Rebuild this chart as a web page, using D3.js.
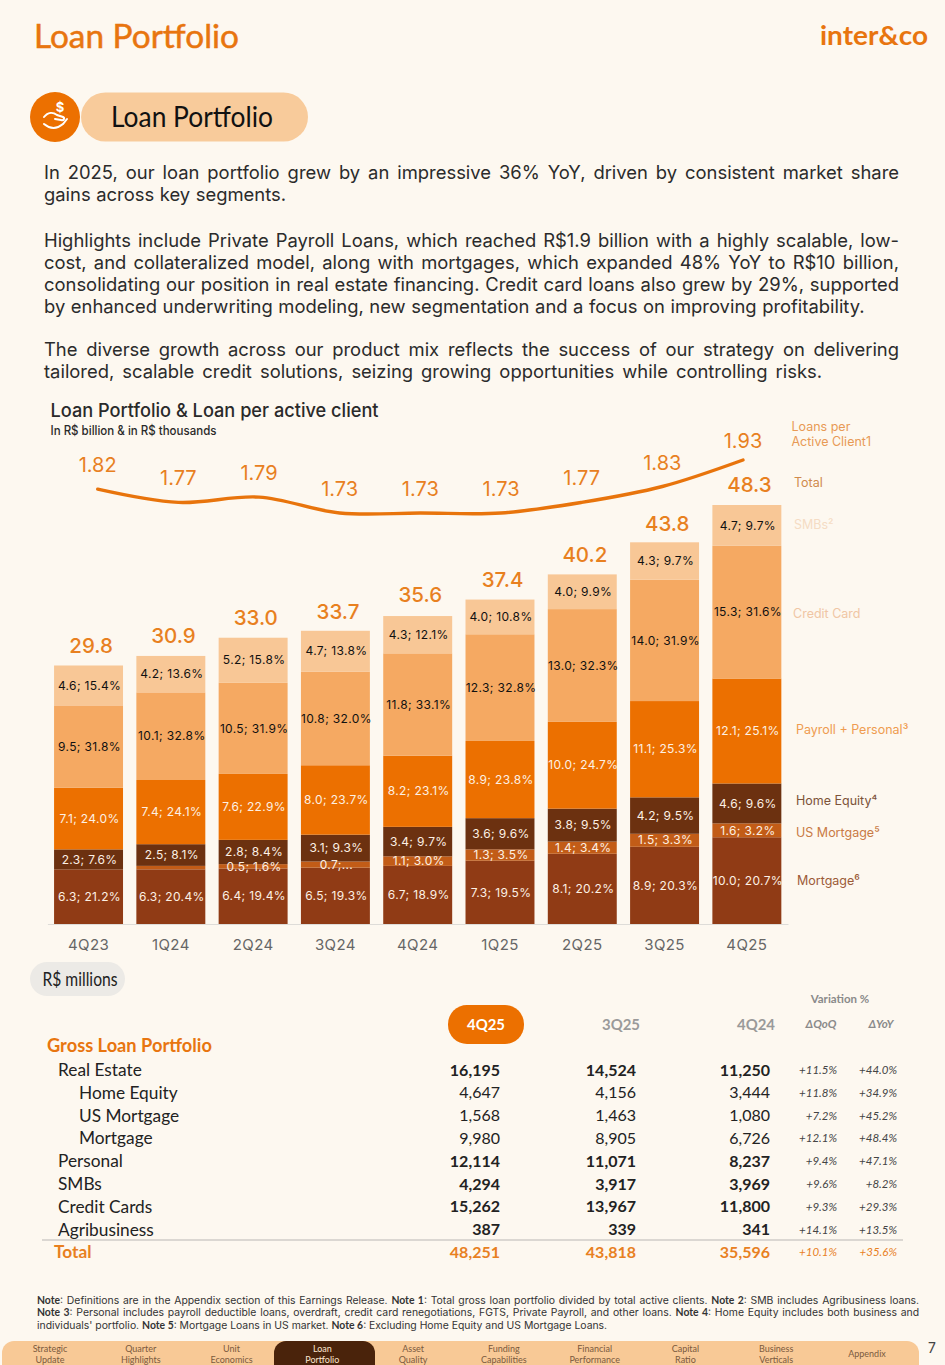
<!DOCTYPE html>
<html>
<head>
<meta charset="utf-8">
<script src="https://cdn.jsdelivr.net/npm/d3@7"></script>
<style>
  html, body { margin: 0; padding: 0; background: #fdf8f0; }
  svg { display: block; }
</style>
</head>
<body>
<div id="page"></div>
<script>
// chart data
const quarters = ["4Q23", "1Q24", "2Q24", "3Q24", "4Q24", "1Q25", "2Q25", "3Q25", "4Q25"];
const totals = [29.8, 30.9, 33.0, 33.7, 35.6, 37.4, 40.2, 43.8, 48.3];
const loansPerClient = [1.82, 1.77, 1.79, 1.73, 1.73, 1.73, 1.77, 1.83, 1.93];

const mortgage = [6.3, 6.3, 6.4, 6.5, 6.7, 7.3, 8.1, 8.9, 10.0];
const mortgagePct = [21.2, 20.4, 19.4, 19.3, 18.9, 19.5, 20.2, 20.3, 20.7];
const usMortgage = [0, 0.4, 0.5, 0.7, 1.1, 1.3, 1.4, 1.5, 1.6];
const usMortgageLabels = ["", "", "0.5; 1.6%", "0.7;...", "1.1; 3.0%", "1.3; 3.5%", "1.4; 3.4%", "1.5; 3.3%", "1.6; 3.2%"];
const homeEquity = [2.3, 2.5, 2.8, 3.1, 3.4, 3.6, 3.8, 4.2, 4.6];
const homeEquityPct = [7.6, 8.1, 8.4, 9.3, 9.7, 9.6, 9.5, 9.5, 9.6];
const personal = [7.1, 7.4, 7.6, 8.0, 8.2, 8.9, 10.0, 11.1, 12.1];
const personalPct = [24.0, 24.1, 22.9, 23.7, 23.1, 23.8, 24.7, 25.3, 25.1];
const creditCard = [9.5, 10.1, 10.5, 10.8, 11.8, 12.3, 13.0, 14.0, 15.3];
const creditCardPct = [31.8, 32.8, 31.9, 32.0, 33.1, 32.8, 32.3, 31.9, 31.6];
const smbs = [4.6, 4.2, 5.2, 4.7, 4.3, 4.0, 4.0, 4.3, 4.7];
const smbsPct = [15.4, 13.6, 15.8, 13.8, 12.1, 10.8, 9.9, 9.7, 9.7];

// table data
const rowNames = ["Real Estate", "Home Equity", "US Mortgage", "Mortgage", "Personal", "SMBs", "Credit Cards", "Agribusiness", "Total"];
const col4Q25 = ["16,195", "4,647", "1,568", "9,980", "12,114", "4,294", "15,262", "387", "48,251"];
const col3Q25 = ["14,524", "4,156", "1,463", "8,905", "11,071", "3,917", "13,967", "339", "43,818"];
const col4Q24 = ["11,250", "3,444", "1,080", "6,726", "8,237", "3,969", "11,800", "341", "35,596"];
const colQoQ = ["+11.5%", "+11.8%", "+7.2%", "+12.1%", "+9.4%", "+9.6%", "+9.3%", "+14.1%", "+10.1%"];
const colYoY = ["+44.0%", "+34.9%", "+45.2%", "+48.4%", "+47.1%", "+8.2%", "+29.3%", "+13.5%", "+35.6%"];
const subRows = ["Home Equity", "US Mortgage", "Mortgage"];
const navTabs = [["Strategic", "Update"], ["Quarter", "Highlights"], ["Unit", "Economics"], ["Loan", "Portfolio"], ["Asset", "Quality"],
  ["Funding", "Capabilities"], ["Financial", "Performance"], ["Capital", "Ratio"], ["Business", "Verticals"], ["Appendix"]];

const paragraphs = [
  ["In 2025, our loan portfolio grew by an impressive 36% YoY, driven by consistent market share", "gains across key segments."],
  ["Highlights include Private Payroll Loans, which reached R$1.9 billion with a highly scalable, low-",
   "cost, and collateralized model, along with mortgages, which expanded 48% YoY to R$10 billion,",
   "consolidating our position in real estate financing. Credit card loans also grew by 29%, supported",
   "by enhanced underwriting modeling,  new segmentation and a focus on improving profitability."],
  ["The diverse growth across our product mix reflects the success of our strategy on delivering",
   "tailored, scalable credit solutions, seizing growing opportunities while controlling risks."]
];

const orange = "#ec7000", sans = "Inter, sans-serif", brand = "Lato, sans-serif";

const svg = d3.select("#page").append("svg").attr("width", 945).attr("height", 1365);
svg.append("rect").attr("width", 945).attr("height", 1365).attr("fill", "#fdf8f0");

// small helper, everything on this page is a lot of text
function txt(x, y, s, o = {}) {
  const t = svg.append("text")
    .attr("x", x).attr("y", y).attr("dy", "0.35em")
    .attr("text-anchor", o.anchor || "start")
    .attr("font-family", o.font || sans)
    .attr("font-size", o.size || 12)
    .attr("font-weight", o.weight || 400)
    .attr("font-style", o.italic ? "italic" : "normal")
    .attr("fill", o.fill || "#222")
    .text(s);
  if (o.fit) t.attr("textLength", o.fit).attr("lengthAdjust", "spacingAndGlyphs");
  if (o.thick) t.attr("stroke", o.fill).attr("stroke-width", o.thick);
  return t;
}

// stretch a line to the given width through the word gaps
function justify(t, width) {
  const n = t.node();
  const gaps = n.textContent.split(" ").length - 1;
  t.style("word-spacing", (width - n.getComputedTextLength()) / gaps + "px");
}

// header
txt(34, 36, "Loan Portfolio", { font: brand, size: 33, fill: "#e8750f", fit: 205, thick: 0.5 });
txt(820, 36, "inter&co", { font: brand, size: 27, weight: 700, fill: "#e8750f", fit: 108 });

svg.append("circle").attr("cx", 55).attr("cy", 117).attr("r", 25).attr("fill", orange);
svg.append("rect").attr("x", 81).attr("y", 92.5).attr("width", 227).attr("height", 49).attr("rx", 24.5).attr("fill", "#f8cb9b");
txt(192, 117, "Loan Portfolio", { font: brand, size: 29, anchor: "middle", fill: "#111", fit: 162 });
txt(60, 107, "$", { size: 13, weight: 700, anchor: "middle", fill: "#fff" });
svg.append("path")
  .attr("d", "M44 117c4-5 9-5 13-2l6 2c2 1 1 4-2 3l-6-1M44 124c6 5 13 5 19 0l4-5")
  .attr("fill", "none").attr("stroke", "#fff").attr("stroke-width", 2).attr("stroke-linecap", "round");

// text block, the short lines end where they end in the original
const paraTops = [173, 241, 350];
const shortLines = { "gains": 242, "by": 821, "tailored,": 778 };
paragraphs.forEach((lines, p) => {
  lines.forEach((line, i) => {
    const t = txt(44, paraTops[p] + i * 21.9, line, { size: 18.4, fill: "#2b2b2b" });
    justify(t, shortLines[line.split(" ")[0]] || 855);
  });
});

// chart heading
txt(50.5, 411, "Loan Portfolio & Loan per active client", { font: sans, size: 18.5, weight: 500, fill: "#2a2a2a", fit: 328 });
txt(50.5, 431, "In R$ billion & in R$ thousands", { font: sans, size: 12.5, weight: 500, fill: "#2a2a2a", fit: 166 });

// scales
const x = d3.scaleBand().domain(quarters).range([47.4, 788]).paddingInner(0.162).paddingOuter(0.081);
const y = d3.scaleLinear().domain([0, 48.3]).range([924, 505]);
const xLine = d3.scalePoint().domain(quarters).range([97.7, 743]);
const yLine = d3.scaleLinear().domain([1.73, 1.93]).range([513, 460]);

const series = [
  { key: "mortgage", values: mortgage, pct: mortgagePct, fill: "#903b15", text: "#fdf0e4" },
  { key: "usMortgage", values: usMortgage, labels: usMortgageLabels, fill: "#c25c17", text: "#fdf0e4" },
  { key: "homeEquity", values: homeEquity, pct: homeEquityPct, fill: "#6c3110", text: "#fdf0e4" },
  { key: "personal", values: personal, pct: personalPct, fill: orange, text: "#fdf0e4" },
  { key: "creditCard", values: creditCard, pct: creditCardPct, fill: "#f5a962", text: "#111" },
  { key: "smbs", values: smbs, pct: smbsPct, fill: "#f8c796", text: "#111" }
];

const table = quarters.map((q, i) => {
  const row = { quarter: q };
  series.forEach(s => { row[s.key] = s.values[i]; });
  return row;
});
const stacked = d3.stack().keys(series.map(s => s.key))(table);

// bars
stacked.forEach((layer, k) => {
  const s = series[k];
  svg.append("g").selectAll("rect").data(layer).join("rect")
    .attr("x", d => x(d.data.quarter))
    .attr("y", d => y(d[1]))
    .attr("width", x.bandwidth())
    .attr("height", d => y(d[0]) - y(d[1]))
    .attr("fill", s.fill);
});

// segment labels
stacked.forEach((layer, k) => {
  const s = series[k];
  const label = (d, i) => s.labels ? s.labels[i] : `${s.values[i].toFixed(1)}; ${s.pct[i].toFixed(1)}%`;
  svg.append("g").selectAll("text").data(layer).join("text")
    .attr("x", d => x(d.data.quarter) + x.bandwidth() / 2 + 1)
    .attr("y", d => y((d[0] + d[1]) / 2))
    .attr("dy", "0.35em")
    .attr("text-anchor", "middle")
    .attr("font-family", sans)
    .attr("font-size", 12)
    .attr("letter-spacing", "0.35px")
    .attr("fill", s.text)
    .text(label);
});

// total labels
svg.append("g").selectAll("text").data(totals).join("text")
  .attr("x", (d, i) => x(quarters[i]) + x.bandwidth() / 2 + 2.6)
  .attr("y", d => y(d) - 20)
  .attr("dy", "0.35em")
  .attr("text-anchor", "middle")
  .attr("font-family", sans)
  .attr("font-size", 20.5)
  .attr("font-weight", 500)
  .attr("fill", "#e8801f")
  .text(d => d.toFixed(1));

// x axis
const axis = svg.append("g").attr("transform", "translate(0,924)").call(d3.axisBottom(x).tickSize(0).tickPadding(15.5));
axis.select(".domain").attr("stroke", "#dedcd8");
axis.selectAll("text").attr("font-family", sans).attr("font-size", 15).attr("fill", "#666").attr("letter-spacing", "0.4px");

// loans per client line
const line = d3.line().x((d, i) => xLine(quarters[i])).y(d => yLine(d)).curve(d3.curveCatmullRom);
svg.append("path").datum(loansPerClient)
  .attr("d", line).attr("fill", "none").attr("stroke", "#e8740c").attr("stroke-width", 3.4).attr("stroke-linecap", "round");

svg.append("g").selectAll("text").data(loansPerClient).join("text")
  .attr("x", (d, i) => xLine(quarters[i]))
  .attr("y", (d, i) => yLine(d) - (i === quarters.length - 1 ? 19 : 24))
  .attr("dy", "0.35em")
  .attr("text-anchor", "middle")
  .attr("font-family", sans)
  .attr("font-size", 20)
  .attr("fill", "#e8801f")
  .text(d => d.toFixed(2));

// series names on the right
const legendSize = 12.5;
txt(791.5, 426.5, "Loans per", { size: legendSize, fill: "#e89a55" });
txt(791.5, 441.5, "Active Client1", { size: legendSize, fill: "#e89a55" });
txt(794, 482.5, "Total", { size: legendSize, fill: "#d08a4c" });
txt(794, 524.5, "SMBs\u00b2", { size: legendSize, fill: "#f5dcc4" });
txt(793, 613.5, "Credit Card", { size: legendSize, fill: "#f0c6a4" });
txt(796, 729.5, "Payroll + Personal\u00b3", { size: legendSize, fill: "#ef9c50" });
txt(796, 800.5, "Home Equity\u2074", { size: legendSize, fill: "#7c5339" });
txt(796, 832.5, "US Mortgage\u2075", { size: legendSize, fill: "#c97a45" });
txt(797, 880.5, "Mortgage\u2076", { size: legendSize, fill: "#9c5b38" });

// table
svg.append("rect").attr("x", 30).attr("y", 962).attr("width", 95).attr("height", 34).attr("rx", 17).attr("fill", "#eceae6");
txt(80, 979.5, "R$ millions", { font: brand, size: 19, anchor: "middle", fill: "#222", fit: 75 });

txt(840, 999, "Variation %", { font: brand, size: 11.5, weight: 700, anchor: "middle", fill: "#8a8a8a" });
svg.append("rect").attr("x", 448).attr("y", 1005).attr("width", 76).attr("height", 39).attr("rx", 19).attr("fill", orange);
txt(486, 1024, "4Q25", { font: brand, size: 16, weight: 700, anchor: "middle", fill: "#fff", fit: 38 });
txt(621, 1024, "3Q25", { font: brand, size: 16, weight: 700, anchor: "middle", fill: "#9a9a9a", fit: 38 });
txt(756, 1024, "4Q24", { font: brand, size: 16, weight: 700, anchor: "middle", fill: "#9a9a9a", fit: 38 });
txt(821, 1024, "\u0394QoQ", { font: brand, size: 11.5, weight: 700, italic: true, anchor: "middle", fill: "#8a8a8a" });
txt(881, 1024, "\u0394YoY", { font: brand, size: 11.5, weight: 700, italic: true, anchor: "middle", fill: "#8a8a8a" });
txt(47, 1046, "Gross Loan Portfolio", { font: brand, size: 18, weight: 700, fill: "#e8750f", fit: 165 });

const rowY = d3.scalePoint().domain(rowNames.slice(0, 8)).range([1070, 1229.5]);
rowNames.forEach((name, i) => {
  const isTotal = name === "Total";
  const isSub = subRows.includes(name);
  const yy = isTotal ? 1252 : rowY(name);
  const weight = isTotal || !isSub ? 700 : 400;
  const fill = isTotal ? "#e8801f" : "#222";
  txt(isTotal ? 54 : isSub ? 79 : 58, yy, name, { font: brand, size: 17.3, weight: isTotal ? 700 : 400, fill });
  txt(500, yy, col4Q25[i], { font: brand, size: 16, weight, fill, anchor: "end" });
  txt(636, yy, col3Q25[i], { font: brand, size: 16, weight, fill, anchor: "end" });
  txt(770, yy, col4Q24[i], { font: brand, size: 16, weight, fill, anchor: "end" });
  txt(837, yy, colQoQ[i], { font: brand, size: 11.5, italic: true, fill: isTotal ? "#e8801f" : "#444", anchor: "end" });
  txt(897, yy, colYoY[i], { font: brand, size: 11.5, italic: true, fill: isTotal ? "#e8801f" : "#444", anchor: "end" });
});
svg.append("line").attr("x1", 42).attr("x2", 903).attr("y1", 1240).attr("y2", 1240).attr("stroke", "#cfcdc9").attr("stroke-width", 1.5);

// notes, the "Note n:" parts are bold
function note(y, parts, just) {
  const t = txt(37, y, "", { size: 10.4, fill: "#333" });
  parts.forEach(([s, bold]) => {
    t.append("tspan").attr("font-weight", bold ? 700 : 400).attr("font-family", bold ? brand : sans).text(s);
  });
  if (just) justify(t, 882);
}
note(1300, [["Note", 1], [": Definitions are in the Appendix section of this Earnings Release. "], ["Note 1", 1], [": Total gross loan portfolio divided by total active clients. "], ["Note 2", 1], [": SMB includes Agribusiness loans."]], true);
note(1312.5, [["Note 3", 1], [": Personal includes payroll deductible loans, overdraft, credit card renegotiations, FGTS, Private Payroll, and other loans. "], ["Note 4", 1], [": Home Equity includes both business and"]], true);
note(1325, [["individuals' portfolio. "], ["Note 5", 1], [": Mortgage Loans in US market. "], ["Note 6", 1], [": Excluding Home Equity and US Mortgage Loans."]], false);

// bottom navigation
svg.append("rect").attr("x", 2).attr("y", 1341).attr("width", 917).attr("height", 40).attr("rx", 12).attr("fill", "#f8c996");
svg.append("rect").attr("x", 274).attr("y", 1341).attr("width", 101).attr("height", 40).attr("rx", 12).attr("fill", "#4a230b");
const navX = d3.scalePoint().domain(navTabs.map(d => d[0])).range([50, 867]);
navTabs.forEach(tab => {
  const fill = tab[0] === "Loan" ? "#fbe6cf" : "#7a5a3e";
  if (tab.length === 1) txt(navX(tab[0]), 1354, tab[0], { font: brand, size: 9, anchor: "middle", fill });
  else tab.forEach((s, i) => txt(navX(tab[0]), 1349 + i * 10.5, s, { font: brand, size: 9, anchor: "middle", fill }));
});
txt(932, 1348, "7", { size: 14, anchor: "middle", fill: "#444" });
</script>
</body>
</html>
